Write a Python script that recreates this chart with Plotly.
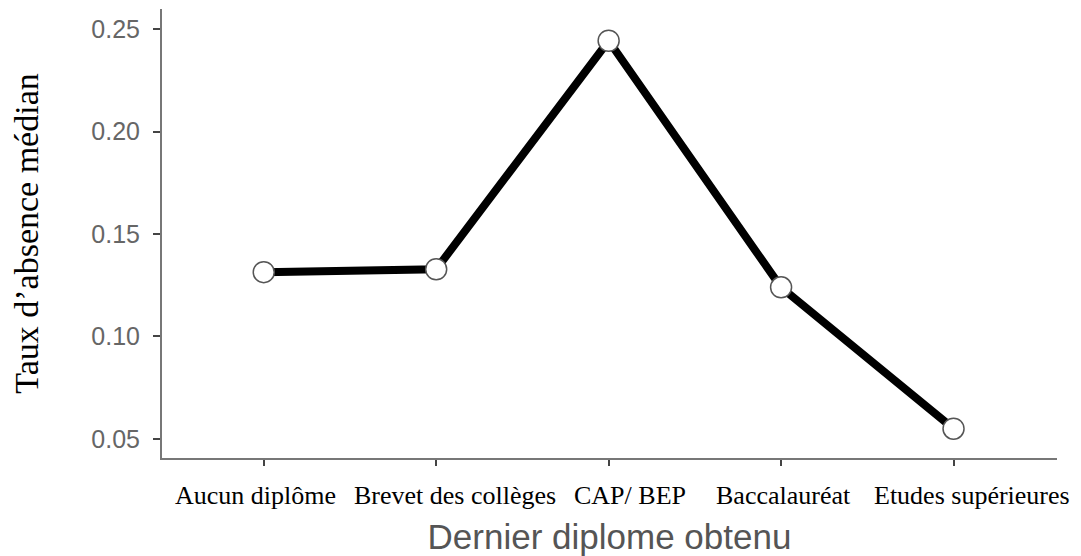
import plotly.graph_objects as go

categories = ["Aucun diplôme", "Brevet des collèges", "CAP/ BEP", "Baccalauréat", "Etudes supérieures"]
values = [0.1314, 0.1328, 0.2443, 0.1240, 0.0550]
y_ticks = [0.05, 0.10, 0.15, 0.20, 0.25]
y_tick_labels = ["0.05", "0.10", "0.15", "0.20", "0.25"]

# horizontal nudges of the category labels (as laid out in the reference)
label_shift = [-8, 19, 21, 2, 18]

fig = go.Figure()
fig.add_trace(go.Scatter(
    x=list(range(len(categories))), y=values, mode="lines+markers",
    line=dict(color="black", width=8),
    marker=dict(size=21, color="white", line=dict(color="#555555", width=1.5)),
    showlegend=False, cliponaxis=False,
))

for i, (cat, dx) in enumerate(zip(categories, label_shift)):
    fig.add_annotation(
        x=i, xref="x", y=0, yref="paper", yanchor="middle", xanchor="center",
        yshift=-37, xshift=dx, text=cat, showarrow=False,
        font=dict(family="Liberation Serif", size=26, color="black"),
    )

fig.update_layout(
    width=1073, height=548,
    margin=dict(l=154, r=24, t=1, b=98, autoexpand=False),
    plot_bgcolor="white", paper_bgcolor="white",
    xaxis=dict(
        range=[-0.59, 4.6],
        tickvals=list(range(len(categories))), showticklabels=False,
        automargin=False,
        showline=True, linecolor="#777777", linewidth=2,
        ticks="outside", ticklen=6, tickcolor="#444444", tickwidth=2,
        showgrid=False, zeroline=False,
        title=dict(text="Dernier diplome obtenu", standoff=59,
                   font=dict(family="Liberation Sans", size=35, color="#555555")),
    ),
    yaxis=dict(
        range=[0.0407, 0.2598],
        tickvals=y_ticks, ticktext=y_tick_labels,
        automargin=False,
        tickfont=dict(family="Liberation Sans", size=25, color="#666666"),
        ticklabelstandoff=8,
        showline=True, linecolor="#777777", linewidth=2,
        ticks="outside", ticklen=7, tickcolor="#444444", tickwidth=2,
        showgrid=False, zeroline=False,
        title=dict(text="Taux d’absence médian", standoff=46,
                   font=dict(family="Liberation Serif", size=34, color="black")),
    ),
)

fig.write_html("out.html")
